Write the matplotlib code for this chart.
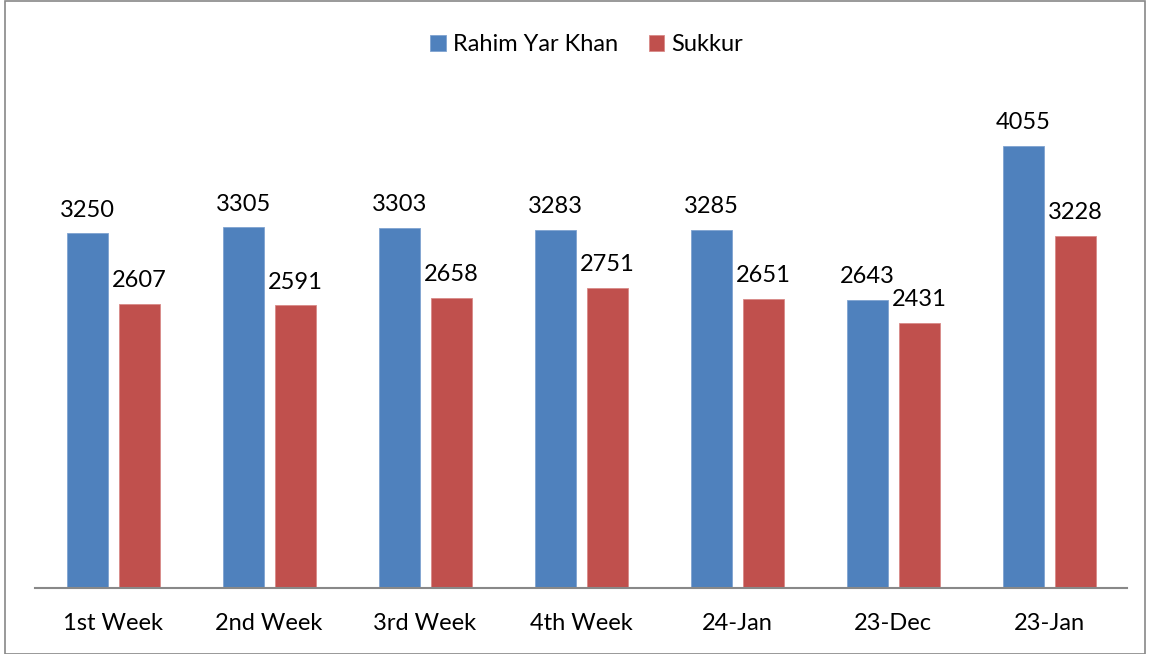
import matplotlib
matplotlib.use("Agg")
import matplotlib.pyplot as plt
import numpy as np
from matplotlib.patches import Rectangle

categories = ["1st Week", "2nd Week", "3rd Week", "4th Week", "24-Jan", "23-Dec", "23-Jan"]
rahim_yar_khan = [3250, 3305, 3303, 3283, 3285, 2643, 4055]
sukkur = [2607, 2591, 2658, 2751, 2651, 2431, 3228]

blue = "#4F81BD"
red = "#C0504D"

plt.rcParams['font.family'] = ['Lato', 'DejaVu Sans']

fig = plt.figure(figsize=(11.5, 6.54), dpi=100)
ax = fig.add_axes([35 / 1150, 66 / 654, 1092 / 1150, 491 / 654])

x = np.arange(len(categories))
w = 0.262
b1 = ax.bar(x - 0.165, rahim_yar_khan, w, color=blue, edgecolor="#7FA3D0", linewidth=0.6, label="Rahim Yar Khan")
b2 = ax.bar(x + 0.17, sukkur, w, color=red, edgecolor="#D88A88", linewidth=0.6, label="Sukkur")

for bars in (b1, b2):
    for rect in bars:
        h = rect.get_height()
        ax.annotate(f"{h:.0f}", (rect.get_x() + rect.get_width() / 2, h),
                    xytext=(0, 9), textcoords="offset points",
                    ha="center", va="bottom", fontsize=17)

ax.set_xlim(-0.5, len(categories) - 0.5)
ax.set_ylim(0, 4500)
ax.set_xticks(x)
ax.set_xticklabels(categories, fontsize=17)
ax.tick_params(axis="x", length=0, pad=18)
ax.set_yticks([])
for side in ("left", "right", "top"):
    ax.spines[side].set_visible(False)
ax.spines["bottom"].set_color("#888888")
ax.spines["bottom"].set_linewidth(1.5)

fig.legend(loc="upper center", bbox_to_anchor=(0.51, 0.98), ncol=2, frameon=False,
           fontsize=17, handlelength=0.65, handleheight=0.65, handletextpad=0.3,
           columnspacing=1.3)

fig.patches.append(Rectangle((5 / 1150, 0.0), 1140 / 1150, 0.999, transform=fig.transFigure,
                             fill=False, edgecolor="#888888", linewidth=1.2))

fig.savefig("out.png", dpi=100)
